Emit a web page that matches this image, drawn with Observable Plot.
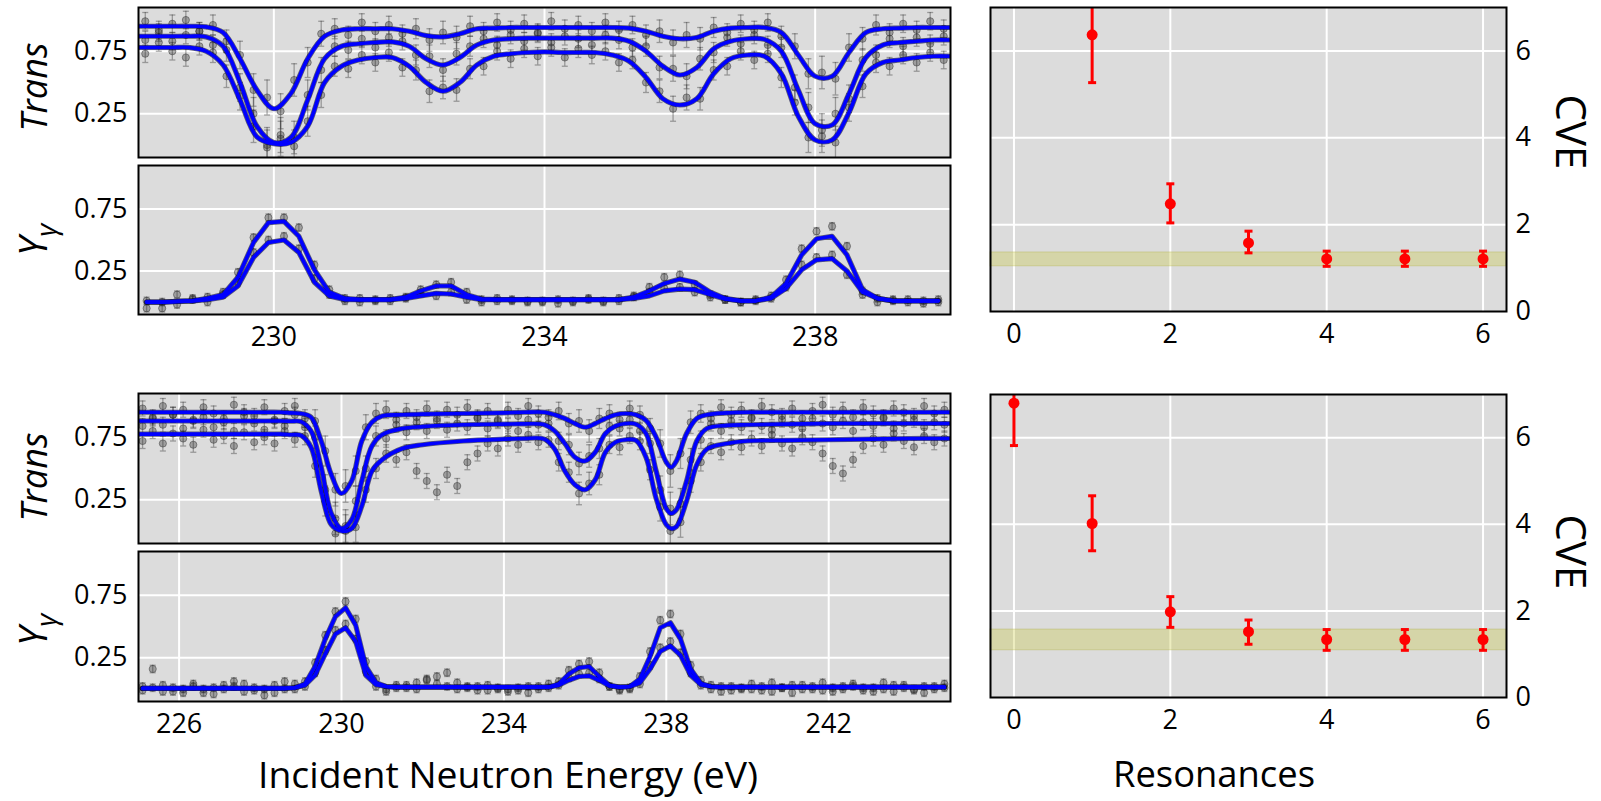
<!DOCTYPE html>
<html><head><meta charset="utf-8">
<script src="https://cdn.jsdelivr.net/npm/d3@7"></script>
<script src="https://cdn.jsdelivr.net/npm/@observablehq/plot@0.6"></script>
<style>
html,body{margin:0;padding:0;background:#fff;}
#root{position:relative;width:1601px;height:801px;overflow:hidden;background:#fff;font-family:"Open Sans",sans-serif;}
#root svg{position:absolute;}
</style></head>
<body><div id="root"></div>
<script>
// ---------------- DATA ----------------
// Top case: energy grid of measured points (eV)
const eTop = [228.1,228.3,228.5,228.7,228.9,229.1,229.3,229.5,229.7,229.9,
  230.1,230.3,230.5,230.7,230.9,231.1,231.3,231.5,231.7,231.9,
  232.1,232.3,232.5,232.7,232.9,233.1,233.3,233.5,233.7,233.9,
  234.1,234.3,234.5,234.7,234.9,235.1,235.3,235.5,235.7,235.9,
  236.1,236.3,236.5,236.7,236.9,237.1,237.3,237.5,237.7,237.9,
  238.1,238.3,238.5,238.7,238.9,239.1,239.3,239.5,239.7,239.9];
const transTopA = [.99,.92,.97,1.00,.91,.96,.83,.72,.44,.38, .27,.52,.66,.89,.93,.88,.98,.91,.96,.89,
  .93,.84,.90,.86,.95,.91,.98,.92,.97,.90, .99,.93,.96,.91,.98,.92,.96,.88,.91,.82,
  .88,.85,.94,.90,.97,.92,.98,.87,.79,.57, .58,.53,.78,.85,.96,.90,.97,.92,.99,.93];
const transTopB = [.84,.90,.83,.88,.91,.80,.76,.46,.25,.00, .08,.06,.40,.60,.79,.76,.85,.78,.86,.83,
  .72,.71,.60,.73,.79,.85,.80,.88,.83,.89, .82,.87,.85,.80,.88,.84,.78,.79,.62,.61,
  .55,.69,.74,.86,.81,.88,.80,.78,.46,.30, .12,.25,.37,.68,.72,.85,.79,.86,.81,.87];
const transTopC = [.73,.82,.75,.70,.79,.74,.55,.39,.15,-.02, .05,-.01,.19,.40,.63,.61,.72,.66,.74,.62,
  .60,.43,.46,.44,.61,.63,.75,.69,.77,.71, .78,.70,.77,.72,.75,.66,.68,.50,.43,.29,
  .38,.37,.60,.63,.75,.68,.73,.54,.34,.06, .07,.02,.30,.47,.66,.63,.72,.66,.74,.68];
const transTopErr = [.07,.07,.07,.07,.07,.08,.09,.11,.13,.14, .14,.13,.12,.10,.08,.07,.07,.07,.07,.07,
  .08,.09,.09,.09,.08,.07,.07,.07,.07,.07, .07,.07,.07,.07,.07,.07,.07,.08,.09,.10,
  .10,.09,.08,.07,.07,.07,.07,.08,.10,.12, .13,.13,.11,.09,.08,.07,.07,.07,.07,.07];
// Top case: fitted transmission curves
const fitETop = [228,228.25,228.5,228.75,229,229.25,229.5,229.75,230,230.25,230.5,230.75,
  231,231.25,231.5,231.75,232,232.25,232.5,232.75,233,233.25,233.5,233.75,
  234,234.25,234.5,234.75,235,235.25,235.5,235.75,236,236.25,236.5,236.75,
  237,237.25,237.5,237.75,238,238.25,238.5,238.75,239,239.25,239.5,239.75,240];
const fitTopU = [.95,.95,.95,.95,.945,.90,.69,.44,.29,.41,.69,.87, .92,.93,.93,.93,.91,.875,.865,.89,.93,.935,.94,.94,
  .94,.94,.94,.94,.94,.935,.91,.87,.85,.86,.91,.935, .94,.94,.90,.72,.55,.55,.74,.90,.93,.935,.94,.94,.94];
const fitTopM = [.87,.87,.87,.87,.865,.79,.50,.15,.02,.06,.36,.69, .79,.81,.82,.825,.79,.69,.64,.70,.80,.84,.85,.855,
  .855,.855,.855,.855,.855,.83,.75,.63,.56,.62,.77,.83, .85,.845,.75,.44,.17,.16,.41,.70,.80,.82,.83,.84,.84];
const fitTopL = [.78,.78,.78,.78,.75,.64,.36,.065,.01,.02,.15,.50, .63,.68,.70,.70,.63,.50,.43,.50,.64,.71,.73,.74,
  .745,.74,.74,.74,.72,.67,.54,.37,.32,.37,.57,.69, .72,.71,.57,.23,.04,.04,.26,.57,.66,.68,.70,.71,.71];
// Top case: capture yield
const eTopYg = [228.12,228.35,228.57,228.80,229.02,229.25,229.47,229.70,229.92,230.15,
  230.37,230.60,230.82,231.05,231.27,231.50,231.72,231.95,232.17,232.40,
  232.62,232.85,233.07,233.30,233.52,233.75,233.97,234.20,234.42,234.65,
  234.87,235.10,235.32,235.55,235.77,236.00,236.22,236.45,236.67,236.90,
  237.12,237.35,237.57,237.80,238.02,238.25,238.47,238.70,238.92,239.15,
  239.37,239.60,239.82];
const ygTopA = [-.05,-.05,.06,.03,.04,.08,.24,.52,.68,.68, .60,.30,.10,.01,.03,.01,.03,.03,.10,.14,
  .16,.08,.02,.03,.01,.01,.00,.02,.01,.03, .01,.03,.05,.12,.20,.22,.14,.06,.02,.00,
  .02,.03,.18,.43,.57,.61,.45,.09,.03,.01, .02,-.01,.02];
const ygTopB = [.01,.00,-.02,.02,.00,.06,.16,.40,.50,.53, .43,.19,.06,.03,.00,.02,.01,.04,.07,.05,
  .08,.02,.00,.01,.02,.00,.01,-.01,.00,.02, .00,.01,.04,.08,.11,.12,.08,.04,.02,.00,
  .01,.05,.12,.30,.36,.38,.22,.06,.00,.02, .00,.01,.00];
const fitYgTopU = [.00,.00,.005,.01,.03,.06,.20,.48,.64,.65, .53,.26,.08,.03,.02,.02,.02,.04,.09,.13,
  .13,.06,.025,.02,.02,.02,.02,.02,.02,.02, .02,.02,.04,.09,.15,.185,.16,.08,.03,.01,
  .01,.04,.15,.38,.51,.53,.38,.10,.03,.01, .01,.01,.01];
const fitYgTopL = [.00,.00,.005,.01,.02,.04,.13,.36,.48,.50, .40,.16,.05,.02,.02,.02,.02,.03,.05,.07,
  .065,.04,.02,.02,.02,.02,.02,.02,.02,.02, .02,.02,.03,.05,.09,.105,.10,.06,.025,.01,
  .01,.03,.11,.26,.34,.35,.25,.08,.03,.01, .01,.01,.01];
const ygErr = 0.03;

// Bottom case: energy grid of measured points (eV)
const eBot = [225.1,225.35,225.6,225.85,226.1,226.35,226.6,226.85,227.1,227.35,
  227.6,227.85,228.1,228.35,228.6,228.85,229.1,229.35,229.6,229.85,
  230.1,230.35,230.6,230.85,231.1,231.35,231.6,231.85,232.1,232.35,
  232.6,232.85,233.1,233.35,233.6,233.85,234.1,234.35,234.6,234.85,
  235.1,235.35,235.6,235.85,236.1,236.35,236.6,236.85,237.1,237.35,
  237.6,237.85,238.1,238.35,238.6,238.85,239.1,239.35,239.6,239.85,
  240.1,240.35,240.6,240.85,241.1,241.35,241.6,241.85,242.1,242.35,
  242.6,242.85,243.1,243.35,243.6,243.85,244.1,244.35,244.6,244.85];
const transBotA = [.98,.91,1.00,.93,.97,.89,.99,.94,.90,1.01, .95,.92,.99,.88,.96,1.00,.90,.88,.64,.33,
  .36,.48,.83,.94,.97,.89,.96,.91,.98,.90, .97,.93,.99,.91,.96,.89,.97,.92,1.00,.94,
  .91,.96,.86,.88,.80,.90,.94,.89,.98,.93, .82,.70,.48,.62,.87,.94,.90,.99,.93,.97,
  .91,1.00,.95,.92,.98,.90,.96,1.01,.93,.97, .91,.99,.94,.90,.98,.95,.92,1.00,.94,.97];
const transBotB = [.84,.90,.85,.93,.82,.88,.91,.83,.87,.80, .92,.86,.81,.89,.84,.93,.83,.75,.33,.10,
  .00,.24,.50,.76,.74,.85,.79,.87,.80,.88, .81,.86,.83,.90,.82,.88,.84,.80,.89,.85,
  .86,.72,.69,.54,.60,.66,.84,.82,.89,.80, .70,.33,.18,.22,.57,.73,.86,.80,.88,.83,
  .90,.84,.81,.89,.85,.82,.90,.86,.83,.88, .80,.87,.84,.91,.82,.86,.89,.83,.87,.85];
const transBotC = [.72,.80,.70,.78,.74,.69,.81,.73,.76,.68, .79,.71,.75,.70,.80,.73,.76,.52,.24,-.02,
  .04,.03,.33,.50,.62,.57,.63,.48,.40,.31, .45,.36,.55,.62,.70,.66,.74,.69,.77,.71,
  .73,.55,.47,.30,.38,.45,.69,.67,.76,.72, .49,.19,.00,.07,.40,.55,.68,.63,.71,.67,
  .74,.68,.77,.70,.66,.75,.71,.62,.52,.46, .57,.68,.74,.69,.78,.72,.67,.76,.71,.74];
const transBotErr = [.06,.06,.06,.06,.06,.06,.06,.06,.06,.06, .06,.06,.06,.06,.06,.06,.07,.09,.12,.13,
  .13,.12,.10,.08,.07,.06,.06,.06,.06,.06, .06,.06,.06,.06,.06,.06,.06,.06,.06,.06,
  .06,.07,.08,.09,.09,.08,.07,.06,.06,.07, .08,.11,.13,.12,.09,.07,.06,.06,.06,.06,
  .06,.06,.06,.06,.06,.06,.06,.06,.06,.06, .06,.06,.06,.06,.06,.06,.06,.06,.06,.06];
const fitEBot = [225,226,227,228,228.5,228.75,229,229.25,229.5,229.75,230,230.25,230.5,230.75,
  231,231.5,232,233,234,234.5,235,235.25,235.5,235.75,236,236.25,236.5,236.75,237,237.25,237.5,237.75,238,
  238.12,238.25,238.5,238.75,239,239.5,240,241,242,243,244,245];
const fitBotU = [.95,.95,.95,.95,.95,.945,.94,.91,.72,.45,.30,.40,.72,.87,
  .92,.93,.935,.94,.945,.95,.95,.93,.90,.86,.83,.86,.90,.93,.94,.93,.885,.75,.55,
  .51,.56,.78,.90,.93,.945,.95,.95,.95,.95,.95,.95];
const fitBotM = [.88,.88,.88,.88,.88,.878,.875,.80,.51,.14,.02,.09,.40,.68,
  .77,.82,.835,.85,.855,.857,.85,.80,.70,.59,.56,.63,.78,.84,.86,.855,.78,.48,.18,
  .14,.17,.40,.72,.82,.845,.85,.855,.86,.86,.86,.86];
const fitBotL = [.775,.775,.775,.775,.775,.77,.765,.67,.32,.05,.00,.02,.20,.48,
  .57,.66,.69,.72,.735,.74,.735,.655,.48,.37,.33,.41,.63,.71,.73,.725,.59,.26,.05,
  .02,.035,.24,.53,.655,.70,.72,.725,.73,.735,.74,.74];
const ygBotA = [.02,.16,-.02,.01,-.03,.04,.00,-.04,.03,.06, -.02,.01,-.05,-.03,.00,.04,.06,.21,.43,.62,
  .70,.56,.22,.08,-.02,.01,.03,.00,.08,.10, .13,.05,.02,-.01,.03,.00,-.02,.01,-.03,.02,
  .04,.06,.15,.20,.22,.13,.02,-.01,.00,.10, .30,.55,.60,.44,.19,.07,.03,-.02,.02,.00,
  .04,-.01,.05,.01,-.03,.03,.00,.05,-.02,.02, .04,-.01,.01,.05,-.02,.03,.00,-.03,.02,.04];
const ygBotB = [-.01,.01,.03,-.02,.00,.02,-.03,.01,.00,.02, .04,-.01,.00,.03,.06,.00,.02,.13,.31,.47,
  .52,.40,.14,.02,.00,.03,.01,.05,.07,.04, .02,.00,.01,.02,-.01,.01,.00,-.01,.02,.00,
  .01,.03,.09,.12,.13,.08,.02,.00,.01,.04, .19,.33,.38,.29,.13,.03,.00,.02,-.01,.01,
  .00,.02,-.02,.01,.03,.00,.02,-.01,.01,.00, .02,.01,-.02,.00,.03,.01,-.01,.02,.00,.01];
const fitYgBotU = [.005,.005,.005,.005,.005,.005,.005,.005,.005,.005, .005,.005,.005,.005,.005,.01,.04,.18,.40,.58,
  .65,.51,.18,.05,.02,.015,.015,.015,.015,.015, .015,.015,.015,.015,.015,.015,.015,.015,.015,.015,
  .015,.04,.12,.17,.18,.10,.03,.015,.02,.08, .26,.49,.53,.40,.16,.045,.02,.015,.015,.015,
  .015,.015,.015,.015,.015,.015,.015,.015,.015,.015, .015,.015,.015,.015,.015,.015,.015,.015,.015,.015];
const fitYgBotL = [.005,.005,.005,.005,.005,.005,.005,.005,.005,.005, .005,.005,.005,.005,.005,.01,.03,.11,.28,.44,
  .49,.38,.11,.035,.02,.015,.015,.015,.015,.015, .015,.015,.015,.015,.015,.015,.015,.015,.015,.015,
  .015,.03,.07,.10,.105,.07,.025,.015,.02,.05, .16,.30,.345,.27,.11,.035,.02,.015,.015,.015,
  .015,.015,.015,.015,.015,.015,.015,.015,.015,.015, .015,.015,.015,.015,.015,.015,.015,.015,.015,.015];

// CVE vs number of resonances
const resTop = [1,2,3,4,5,6];
const cveTop = [6.37,2.48,1.58,1.21,1.21,1.21];
const cveTopLo = [5.27,2.04,1.35,1.04,1.04,1.04];
const cveTopHi = [7.47,2.94,1.85,1.39,1.39,1.39];
const bandTop = [1.04,1.36];
const resBot = [0,1,2,3,4,5,6];
const cveBot = [6.80,4.02,1.98,1.52,1.34,1.34,1.34];
const cveBotLo = [5.82,3.39,1.62,1.23,1.09,1.09,1.09];
const cveBotHi = [7.78,4.66,2.33,1.79,1.57,1.57,1.57];
const bandBot = [1.09,1.57];

// tick labels
const xTicksTop = [230,234,238];
const xTicksBot = [226,230,234,238,242];
const yTicksLeft = [0.25,0.75];
const xTicksRes = [0,2,4,6];
const yTicksCVE = [0,2,4,6];

// ---------------- BUILD ----------------
const root = document.getElementById("root");
const FONT = "'Open Sans', sans-serif";
const BG = "#dcdcdc";
const cap = {draw(ctx, size){ const w = Math.sqrt(size/Math.PI); ctx.moveTo(-w,0); ctx.lineTo(w,0); }};

function place(node, left, top){ node.style.position="absolute"; node.style.left=left+"px"; node.style.top=top+"px"; root.appendChild(node); }

function panel({frame:[x0,y0,x1,y1], ml, mr, mt, mb, x, y, marks}){
  const p = Plot.plot({
    width: x1-x0+ml+mr, height: y1-y0+mt+mb,
    marginLeft: ml, marginRight: mr, marginTop: mt, marginBottom: mb,
    x, y,
    style: {fontFamily: FONT, fontSize: "27px", color: "#000", background: "none", overflow: "visible"},
    marks: marks.filter(Boolean)
  });
  place(p, x0-ml, y0-mt);
}

function dataRows(E, sets, errs){
  const rows = [];
  sets.forEach(vals => E.forEach((e,i) => {
    const v = vals[i]; if (v == null) return;
    const err = Array.isArray(errs) ? errs[i] : errs;
    rows.push({e, v, lo: v-err, hi: v+err});
  }));
  return rows;
}
function fitRows(E, fits){
  return fits.flatMap((vals,k) => E.map((e,i) => ({e, v: vals[i], k}))).filter(d => d.v != null);
}
const white = {stroke:"#fff", strokeOpacity:1, strokeWidth:2};

function leftPanel(frame, xDomain, xTicks, showX, rows, fits, curve){
  const pt = "#2b2b2b";
  panel({frame, ml:138, mr:6, mt:4, mb: showX ? 46 : 4,
    x: showX ? {domain:xDomain} : {domain:xDomain, axis:null},
    y: {domain:[-0.1,1.1]},
    marks: [
      Plot.frame({fill:BG, stroke:"none"}),
      Plot.gridX(xTicks, white),
      Plot.gridY(yTicksLeft, white),
      Plot.ruleX(rows, {x:"e", y1:"lo", y2:"hi", stroke:pt, strokeOpacity:0.38, strokeWidth:1.3, clip:true}),
      Plot.dot(rows, {x:"e", y:"hi", symbol:cap, r:3, fill:"none", stroke:pt, strokeOpacity:0.38, strokeWidth:1.3, clip:true}),
      Plot.dot(rows, {x:"e", y:"lo", symbol:cap, r:3, fill:"none", stroke:pt, strokeOpacity:0.38, strokeWidth:1.3, clip:true}),
      Plot.dot(rows, {x:"e", y:"v", r:3.6, fill:pt, fillOpacity:0.35, stroke:pt, strokeOpacity:0.45, strokeWidth:1, clip:true}),
      Plot.line(fits, {x:"e", y:"v", z:"k", curve, stroke:"#000033", strokeOpacity:0.6, strokeWidth:5.2, clip:true}),
      Plot.line(fits, {x:"e", y:"v", z:"k", curve, stroke:"#0000ff", strokeWidth:3.6, clip:true}),
      Plot.axisY(yTicksLeft, {tickSize:0, tickPadding:11, tickFormat:d3.format(".2f"), label:null}),
      showX ? Plot.axisX(xTicks, {tickSize:0, tickPadding:12, label:null}) : null,
      Plot.frame({stroke:"#000", strokeWidth:2})
    ]});
}

function rightPanel(frame, N, C, LO, HI, band){
  const rows = N.map((n,i) => ({n, c:C[i], lo:LO[i], hi:HI[i]}));
  panel({frame, ml:6, mr:60, mt:4, mb:46,
    x: {domain:[-0.3,6.3]}, y: {domain:[0,7]},
    marks: [
      Plot.frame({fill:BG, stroke:"none"}),
      Plot.gridX(xTicksRes, white),
      Plot.gridY([2,4,6], white),
      Plot.rect([{lo:band[0], hi:band[1]}], {y1:"lo", y2:"hi", fill:"#c8c83a", fillOpacity:0.32, stroke:"#aaaa30", strokeOpacity:0.3, strokeWidth:1}),
      Plot.ruleX(rows, {x:"n", y1:"lo", y2:"hi", stroke:"#ff0000", strokeWidth:3, clip:true}),
      Plot.dot(rows, {x:"n", y:"hi", symbol:cap, r:4, fill:"none", stroke:"#ff0000", strokeWidth:3, clip:true}),
      Plot.dot(rows, {x:"n", y:"lo", symbol:cap, r:4, fill:"none", stroke:"#ff0000", strokeWidth:3, clip:true}),
      Plot.dot(rows, {x:"n", y:"c", r:5.5, fill:"#ff0000", stroke:"none", clip:true}),
      Plot.axisY(yTicksCVE, {anchor:"right", tickSize:0, tickPadding:9, label:null}),
      Plot.axisX(xTicksRes, {tickSize:0, tickPadding:12, label:null}),
      Plot.frame({stroke:"#000", strokeWidth:2})
    ]});
}

// Top row
leftPanel([138,7,950,157], [228,240], xTicksTop, false,
  dataRows(eTop, [transTopA, transTopB, transTopC], transTopErr),
  fitRows(fitETop, [fitTopU, fitTopM, fitTopL]), "catmull-rom");
leftPanel([138,165,950,314], [228,240], xTicksTop, true,
  dataRows(eTopYg, [ygTopA, ygTopB], ygErr),
  fitRows(eTopYg, [fitYgTopU, fitYgTopL]), "linear");
rightPanel([990,7,1506,311], resTop, cveTop, cveTopLo, cveTopHi, bandTop);

// Bottom row
leftPanel([138,393,950,543], [225,245], xTicksBot, false,
  dataRows(eBot, [transBotA, transBotB, transBotC], transBotErr),
  fitRows(fitEBot, [fitBotU, fitBotM, fitBotL]), "catmull-rom");
leftPanel([138,551,950,701], [225,245], xTicksBot, true,
  dataRows(eBot, [ygBotA, ygBotB], ygErr),
  fitRows(eBot, [fitYgBotU, fitYgBotL]), "linear");
rightPanel([990,394,1506,697], resBot, cveBot, cveBotLo, cveBotHi, bandBot);

// Axis titles
const ns = "http://www.w3.org/2000/svg";
const ov = document.createElementNS(ns, "svg");
ov.setAttribute("width", 1601); ov.setAttribute("height", 801);
ov.style.left = "0px"; ov.style.top = "0px"; ov.style.pointerEvents = "none";
ov.setAttribute("font-family", "Open Sans, sans-serif");
ov.innerHTML = `
  <text transform="translate(47,87) rotate(-90)" text-anchor="middle" font-size="36" font-style="italic">Trans</text>
  <text transform="translate(47,477) rotate(-90)" text-anchor="middle" font-size="36" font-style="italic">Trans</text>
  <text transform="translate(47,240) rotate(-90)" text-anchor="middle" font-size="38" font-style="italic">Y<tspan font-size="28" dy="9">γ</tspan></text>
  <text transform="translate(47,630) rotate(-90)" text-anchor="middle" font-size="38" font-style="italic">Y<tspan font-size="28" dy="9">γ</tspan></text>
  <text transform="translate(1556,132) rotate(90)" text-anchor="middle" font-size="42">CVE</text>
  <text transform="translate(1556,552) rotate(90)" text-anchor="middle" font-size="42">CVE</text>
  <text x="258" y="788" font-size="37" textLength="500" lengthAdjust="spacingAndGlyphs">Incident Neutron Energy (eV)</text>
  <text x="1113" y="787" font-size="37" textLength="202" lengthAdjust="spacingAndGlyphs">Resonances</text>`;
root.appendChild(ov);
</script>
</body></html>
